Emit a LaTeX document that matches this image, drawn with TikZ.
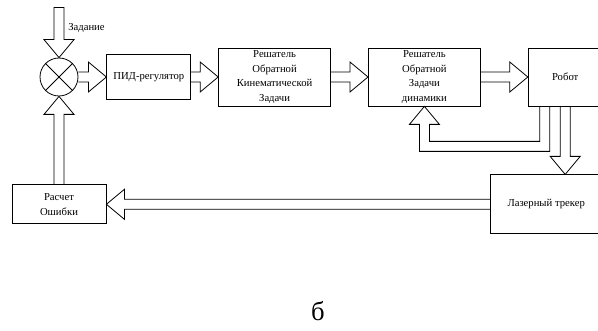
\documentclass[tikz,border=0pt]{standalone}
\usepackage{fontspec}
\setmainfont{Liberation Serif}
\usetikzlibrary{positioning}
\usetikzlibrary{calc}

% hollow block arrow from #2 to the tip #3 (#1: -- cycle closes the tail)
\newcommand{\fatarrow}[3][]{%
  \coordinate (hb) at ($(#3)!13.5pt!(#2)$);
  \draw[fat] ($(#2)!3.75pt!90:(#3)$) -- ($(hb)!3.75pt!90:(#3)$)
    -- ($(hb)!11.25pt!90:(#3)$) -- (#3) -- ($(hb)!11.25pt!-90:(#3)$)
    -- ($(hb)!3.75pt!-90:(#3)$) -- ($(#2)!3.75pt!-90:(#3)$) #1;}

\begin{document}
\begin{tikzpicture}
                [
                    x=0.75pt, y=-0.75pt,
                    block/.style = {rectangle, draw, line width=0.6pt, align=center, inner sep=1pt, font=\rmfamily\fontsize{8}{10.9}\selectfont},
                    sumnode/.style = {circle, draw, line width=0.6pt, minimum size=28.5pt, inner sep=0pt},
                    fat/.style = {draw, line width=0.6pt, line join=miter},
                    lbl/.style = {inner sep=0pt, font=\rmfamily\fontsize{8}{10.9}\selectfont}
                ]
                \clip (0,0) rectangle (598,331);

                \node (sum) [sumnode] at (59,77) {};
                \draw[line width=0.6pt] (sum.north west) -- (sum.south east);
                \draw[line width=0.6pt] (sum.north east) -- (sum.south west);

                \node (pid) [block, right=21pt of sum, minimum width=63pt, minimum height=33.75pt] {ПИД-регулятор};
                \node (kin) [block, right=20.25pt of pid, minimum width=84pt, minimum height=43.5pt] {Решатель\\Обратной\\Кинематической\\Задачи};
                \node (dyn) [block, right=27.75pt of kin, minimum width=84pt, minimum height=43.5pt] {Решатель\\Обратной\\Задачи\\динамики};
                \node (robot) [block, right=35.25pt of dyn, minimum width=55.5pt, minimum height=43.5pt] {Робот};
                \node (laser) [block, below=51pt of robot, xshift=-14.25pt, minimum width=84pt, minimum height=44.25pt] {Лазерный трекер};
                \node (err) [block, below=66pt of sum, minimum width=70.5pt, minimum height=29.25pt] {Расчет\\Ошибки};

                \coordinate[above=37.5pt of sum.north] (inp);
                \node (task) [lbl, right=6.75pt of inp, anchor=west, yshift=-15pt] {Задание};

                \fatarrow[-- cycle]{inp}{sum.north}
                \fatarrow{sum.east}{pid.west}
                \fatarrow{pid.east}{kin.west}
                \fatarrow{kin.east}{dyn.west}
                \fatarrow{dyn.east}{robot.west}
                \fatarrow{robot.south}{robot.south |- laser.north}
                \fatarrow{laser.west}{err.east}
                \fatarrow{err.north}{sum.south}

                % feedback robot -> dynamics
                \coordinate (fb1) at ([xshift=-15.4pt]robot.south);
                \coordinate (fb2) at ([yshift=-30pt]fb1);
                \coordinate (fb3) at (dyn.south |- fb2);
                \coordinate (fbh) at ([yshift=-13.5pt]dyn.south);
                \draw[fat] ([xshift=3.75pt]fb1) -- ([shift={(3.75pt,-3.75pt)}]fb2)
                    -- ([shift={(-3.75pt,-3.75pt)}]fb3) -- ([xshift=-3.75pt]fbh)
                    -- ([xshift=-11.25pt]fbh) -- (dyn.south) -- ([xshift=11.25pt]fbh)
                    -- ([xshift=3.75pt]fbh) -- ([shift={(3.75pt,3.75pt)}]fb3)
                    -- ([shift={(-3.75pt,3.75pt)}]fb2) -- ([xshift=-3.75pt]fb1);

                \node (cap) [inner sep=0pt, font=\rmfamily\fontsize{20}{24}\selectfont] at (318,311) {б};

            \end{tikzpicture}
\end{document}
